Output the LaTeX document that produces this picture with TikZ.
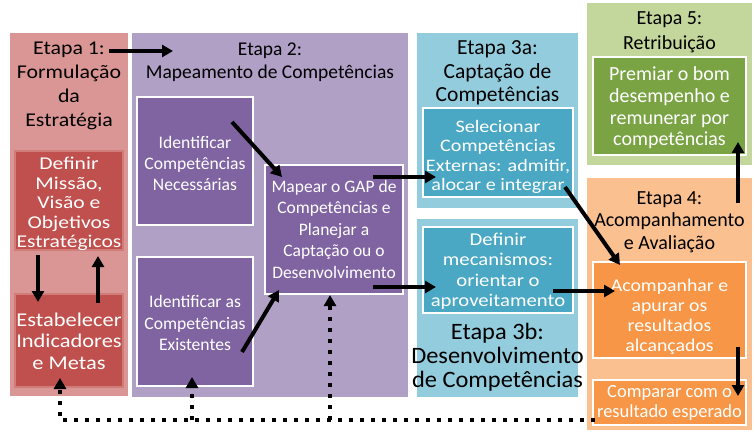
\documentclass[tikz,border=0pt]{standalone}
\usepackage{fontspec}
\setmainfont{Carlito}
\newfontfamily\cfN{Carlito}
\newfontfamily\cfD[FakeStretch=1.04]{Carlito}
\newfontfamily\cfE[FakeStretch=1.1]{Carlito}
\newfontfamily\cfA[FakeStretch=1.12]{Carlito}
\newfontfamily\cfB[FakeStretch=1.15]{Carlito}
\newfontfamily\cfC[FakeStretch=1.2]{Carlito}
\usetikzlibrary{arrows.meta}
\definecolor{sIbg}{RGB}{218,150,148}
\definecolor{sIbox}{RGB}{192,80,77}
\definecolor{sIIbg}{RGB}{176,160,198}
\definecolor{sIIbox}{RGB}{128,100,162}
\definecolor{sIIIbg}{RGB}{147,205,221}
\definecolor{sIIIbox}{RGB}{75,168,196}
\definecolor{sIVbg}{RGB}{250,192,144}
\definecolor{sIVbox}{RGB}{247,150,70}
\definecolor{sVbg}{RGB}{195,214,155}
\definecolor{sVbox}{RGB}{122,163,68}
\begin{document}
\begin{tikzpicture}[x=1pt,y=-1pt,
  bgbox/.style={rectangle, inner sep=0pt, outer sep=0pt, draw=none},
  inbox/.style={rectangle, inner sep=0pt, outer sep=0pt, draw=white, line width=1.2pt},
  intext/.style={inner sep=0pt, align=center, text=white},
  ttl/.style={inner sep=0pt, align=center, text=black},
  arr/.style={line width=4pt, -{Triangle[length=11pt,width=12pt]}},
  dotarr/.style={line width=4pt, dash pattern=on 4pt off 7pt, -{Triangle[length=11pt,width=12pt]}},
  fs/.style n args={3}{font=#1\fontsize{#2}{#3}\selectfont}]
\useasboundingbox (0,0) rectangle (755,433);
% backgrounds
\node[bgbox, fill=sIbg, minimum width=118pt, minimum height=363pt] (bgI) at (69,214.5) {};
\node[bgbox, fill=sIIbg, minimum width=276pt, minimum height=364pt] (bgII) at (270,215) {};
\node[bgbox, fill=sIIIbg, minimum width=161pt, minimum height=175pt] (bgIIIa) at (497.5,120.5) {};
\node[bgbox, fill=sIIIbg, minimum width=161pt, minimum height=178pt] (bgIIIb) at (497.5,308) {};
\node[bgbox, fill=sVbg, minimum width=165pt, minimum height=162pt] (bgV) at (669.5,84) {};
\node[bgbox, fill=sIVbg, minimum width=165pt, minimum height=252pt] (bgIV) at (669.5,304) {};
% titles
\node[ttl, fs={\cfA}{19.5}{24}] (tI) at (69,86) {Etapa 1:\\Formulação\\da\\Estratégia};
\node[ttl, fs={\cfN}{19.5}{22.5}] (tII) at (270,62) {Etapa 2:\\Mapeamento de Competências};
\node[ttl, fs={\cfN}{21.5}{23.5}] (tIIIa) at (497.5,73) {Etapa 3a:\\Captação de\\Competências};
\node[ttl, fs={\cfD}{23.5}{24}] (tIIIb) at (497.5,357) {Etapa 3b:\\Desenvolvimento\\de Competências};
\node[ttl, fs={\cfN}{20}{25}] (tV) at (669.5,32) {Etapa 5:\\Retribuição};
\node[ttl, fs={\cfN}{20}{22.5}] (tIV) at (669.5,222) {Etapa 4:\\Acompanhamento\\e Avaliação};
% inner boxes
\node[inbox, fill=sIbox, draw=sIbox!75!white, minimum width=108pt, minimum height=99pt] (defI) at (69,200.5) {};
\node[inbox, fill=sIbox, draw=sIbox!75!white, minimum width=108pt, minimum height=93pt] (estI) at (69,340.5) {};
\node[inbox, fill=sIIbox, minimum width=116pt, minimum height=128pt] (nec) at (195,161) {};
\node[inbox, fill=sIIbox, minimum width=116pt, minimum height=129pt] (exi) at (195,321.5) {};
\node[inbox, fill=sIIbox, minimum width=138pt, minimum height=129pt] (gap) at (334,229.5) {};
\node[inbox, fill=sIIIbox, minimum width=150pt, minimum height=89pt] (sel) at (498,152.5) {};
\node[inbox, fill=sIIIbox, minimum width=150pt, minimum height=86pt] (mec) at (498,270) {};
\node[inbox, fill=sVbox, minimum width=153pt, minimum height=98pt] (prem) at (669.5,106) {};
\node[inbox, fill=sIVbox, minimum width=153pt, minimum height=96pt] (acomp) at (669.5,310) {};
\node[inbox, fill=sIVbox, minimum width=153pt, minimum height=45pt] (comp) at (669.5,402.5) {};
% inner texts
\node[intext, fs={\cfC}{18}{19.5}] (defIt) at (69,204) {Definir\\Missão,\\Visão e\\Objetivos\\Estratégicos};
\node[intext, fs={\cfB}{19.5}{21.5}] (estIt) at (69,341) {Estabelecer\\Indicadores\\e Metas};
\node[intext, fs={\cfN}{17.6}{21}] (nect) at (195,163) {Identificar\\Competências\\Necessárias};
\node[intext, fs={\cfN}{17.6}{21.5}] (exit) at (195,323) {Identificar as\\Competências\\Existentes};
\node[intext, fs={\cfN}{17.5}{21.5}] (gapt) at (334,229) {Mapear o GAP de\\Competências e\\Planejar a\\Captação ou o\\Desenvolvimento};
\node[intext, fs={\cfB}{17.5}{19.5}] (selt) at (498,157) {Selecionar\\Competências\\Externas: admitir,\\alocar e integrar};
\node[intext, fs={\cfB}{18}{20.5}] (mect) at (498,271) {Definir\\mecanismos:\\orientar o\\aproveitamento};
\node[intext, fs={\cfN}{20}{21.7}] (premt) at (669.5,108) {Premiar o bom\\desempenho e\\remunerar por\\competências};
\node[intext, fs={\cfE}{18}{20}] (acompt) at (669.5,317) {Acompanhar e\\apurar os\\resultados\\alcançados};
\node[intext, fs={\cfN}{18.5}{20}] (compt) at (669.5,402.5) {Comparar com o\\resultado esperado};
% arrow end points
\coordinate (aIs) at (109,51); \coordinate (aIe) at (173,51);
\coordinate (aIIs) at (38,255); \coordinate (aIIe) at (38,302);
\coordinate (aIIIs) at (98,303); \coordinate (aIIIe) at (98,256);
\coordinate (aIVs) at (232,122); \coordinate (aIVe) at (282,177);
\coordinate (aVs) at (242,352); \coordinate (aVe) at (279,290);
\coordinate (aVIs) at (373,177); \coordinate (aVIe) at (436,177);
\coordinate (aVIIs) at (373,287); \coordinate (aVIIe) at (436,287);
\coordinate (aVIIIs) at (565,187); \coordinate (aVIIIe) at (620,265);
\coordinate (aIXs) at (553,291); \coordinate (aIXe) at (615,291);
\coordinate (aXs) at (738,203); \coordinate (aXe) at (738,142);
\coordinate (aXIs) at (738,347); \coordinate (aXIe) at (738,396);
\coordinate (dS) at (595,420); \coordinate (dC) at (60,420); \coordinate (dE) at (60,378);
\coordinate (dBs) at (192,420); \coordinate (dBe) at (192,377);
\coordinate (dCs) at (330,420); \coordinate (dCe) at (330,295);
% arrows
\draw[arr] (aIs) -- (aIe);
\draw[arr] (aIIs) -- (aIIe);
\draw[arr] (aIIIs) -- (aIIIe);
\draw[arr] (aIVs) -- (aIVe);
\draw[arr] (aVs) -- (aVe);
\draw[arr] (aVIs) -- (aVIe);
\draw[arr] (aVIIs) -- (aVIIe);
\draw[arr] (aVIIIs) -- (aVIIIe);
\draw[arr] (aIXs) -- (aIXe);
\draw[arr] (aXs) -- (aXe);
\draw[arr] (aXIs) -- (aXIe);
\draw[dotarr] (dS) -- (dC) -- (dE);
\draw[dotarr] (dBs) -- (dBe);
\draw[dotarr] (dCs) -- (dCe);
\end{tikzpicture}
\end{document}
